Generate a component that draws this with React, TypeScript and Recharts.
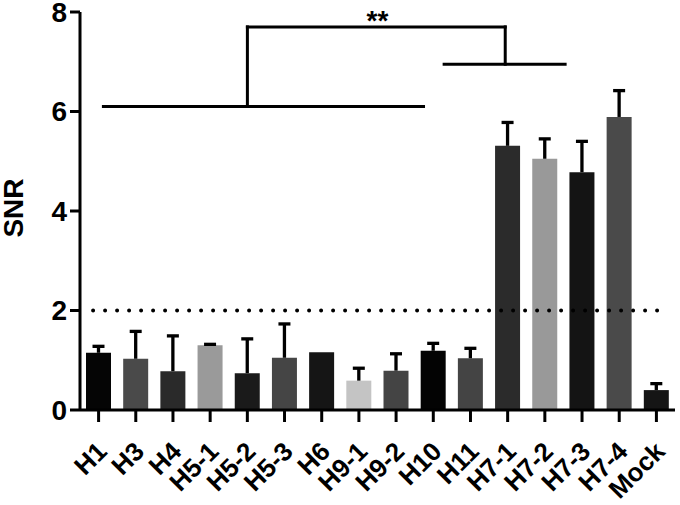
import React from 'react';
import { BarChart, Bar, XAxis, YAxis, Cell, ReferenceLine, ReferenceDot } from 'recharts';

const categories = ['H1', 'H3', 'H4', 'H5-1', 'H5-2', 'H5-3', 'H6', 'H9-1', 'H9-2', 'H10', 'H11', 'H7-1', 'H7-2', 'H7-3', 'H7-4', 'Mock'];
const snrMeans = [1.15, 1.03, 0.78, 1.3, 0.74, 1.05, 1.16, 0.59, 0.79, 1.19, 1.04, 5.31, 5.05, 4.78, 5.89, 0.4];
const snrErrors = [0.16, 0.58, 0.74, 0.05, 0.72, 0.71, 0, 0.28, 0.37, 0.18, 0.23, 0.5, 0.43, 0.65, 0.56, 0.16];
const barColors = ['#050505', '#4a4a4a', '#2a2a2a', '#9a9a9a', '#1a1a1a', '#454545', '#151515', '#c4c4c4', '#444444', '#030303', '#444444', '#2b2b2b', '#999999', '#141414', '#4a4a4a', '#151515'];
const yTicks = [0, 2, 4, 6, 8];
const thresholdValue = 2;
const significanceLabel = '**';

const data = categories.map((name, i) => ({ name, mean: snrMeans[i], err: snrErrors[i] }));

const FONT = '"Liberation Sans", Arial, Helvetica, sans-serif';

// annotation frame: hidden numeric x axis spanning the plot width as [0, 15]
const annoDomain = [0, 15];
const bracketSegments = [
  [{ x: 0.59, y: 6.1 }, { x: 8.66, y: 6.1 }],
  [{ x: 4.22, y: 6.1 }, { x: 4.22, y: 7.7 }],
  [{ x: 4.22, y: 7.7 }, { x: 10.72, y: 7.7 }],
  [{ x: 10.72, y: 7.7 }, { x: 10.72, y: 6.95 }],
  [{ x: 9.18, y: 6.95 }, { x: 12.23, y: 6.95 }],
];
const thresholdSpan = [0.33, 14.81];
const starPos = { x: 7.5, y: 7.63 };

const ErrShape = (props: any) => {
  const { x, y, width, height } = props;
  if (!height || height <= 0) return null;
  const cx = x + width / 2;
  return (
    <g>
      <line x1={cx} x2={cx} y1={y + height} y2={y + 1.5} stroke="#000" strokeWidth={3.3} />
      <line x1={cx - 6} x2={cx + 6} y1={y + 1.5} y2={y + 1.5} stroke="#000" strokeWidth={3.3} />
    </g>
  );
};

const XTick = (props: any) => {
  const { x, y, payload } = props;
  const ax = x + 10;
  const ay = y + 29;
  return (
    <text x={ax} y={ay} transform={`rotate(-45, ${ax}, ${ay})`} textAnchor="end" fontFamily={FONT} fontWeight="bold" fontSize={26} fill="#000">
      {payload.value}
    </text>
  );
};

const YLabel = () => (
  <text x={23} y={208} transform="rotate(-90, 23, 208)" textAnchor="middle" fontFamily={FONT} fontWeight="bold" fontSize={28} fill="#000">
    SNR
  </text>
);

export default function App() {
  return (
    <div style={{ position: 'absolute', left: 0, top: 0, width: 680, height: 505, background: '#fff' }}>
      <BarChart width={680} height={505} data={data} margin={{ top: 12, right: 5, left: 0, bottom: 0 }} barSize={25}>
        <XAxis
          dataKey="name"
          interval={0}
          height={95}
          tickSize={12}
          axisLine={{ stroke: '#000', strokeWidth: 3 }}
          tickLine={{ stroke: '#000', strokeWidth: 3 }}
          tick={<XTick />}
        />
        <XAxis xAxisId="n" type="number" domain={annoDomain} allowDataOverflow hide />
        <YAxis
          width={80}
          domain={[0, 8]}
          ticks={yTicks}
          interval={0}
          tickSize={10}
          tickMargin={3}
          axisLine={{ stroke: '#000', strokeWidth: 3 }}
          tickLine={{ stroke: '#000', strokeWidth: 3 }}
          tick={{ fill: '#000', fontSize: 28, fontWeight: 'bold', fontFamily: FONT }}
          label={<YLabel />}
        />
        <ReferenceLine
          xAxisId="n"
          segment={[{ x: thresholdSpan[0], y: thresholdValue }, { x: thresholdSpan[1], y: thresholdValue }]}
          stroke="#000"
          strokeWidth={4}
          strokeDasharray="0 12"
          strokeLinecap="round"
        />
        <Bar dataKey="mean" stackId="a" isAnimationActive={false}>
          {data.map((d, i) => (
            <Cell key={d.name} fill={barColors[i]} />
          ))}
        </Bar>
        <Bar dataKey="err" stackId="a" isAnimationActive={false} fill="none" shape={<ErrShape />} />
        {bracketSegments.map((seg, i) => (
          <ReferenceLine key={i} xAxisId="n" segment={seg} stroke="#000" strokeWidth={3} strokeLinecap="square" />
        ))}
        <ReferenceDot
          xAxisId="n"
          x={starPos.x}
          y={starPos.y}
          r={0}
          shape={(p: any) => (
            <text x={p.cx} y={p.cy} textAnchor="middle" fontFamily={FONT} fontWeight="bold" fontSize={28} fill="#000">
              {significanceLabel}
            </text>
          )}
        />
      </BarChart>
    </div>
  );
}
